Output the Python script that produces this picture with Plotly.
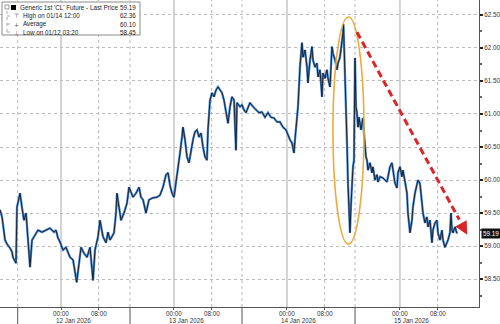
import pandas as pd
import plotly.graph_objects as go

# ---------------- data ----------------
# hours relative to 2026-01-12 00:00
hours = [
    -12.96, -12.53, -11.89, -11.47, -10.83, -10.41, -10.20, -9.77, -9.56,
    -9.35, -8.92, -8.71, -8.28, -7.86, -7.43, -7.01, -6.58, -6.16, -5.52, -4.89, -4.04, -3.19, -2.34,
    -1.49, -1.06, -0.64, -0.21, 0.42, 1.06, 1.91, 2.55, 3.33, 3.61, 4.25, 4.89, 5.52, 6.16, 6.80, 7.22,
    7.86, 8.28, 8.92, 9.56, 9.98, 10.41, 10.83, 11.26, 11.68, 11.89, 12.32, 12.74, 13.38, 14.02, 14.44,
    14.87, 15.29, 15.93, 16.57, 16.99, 17.42, 18.05, 18.69, 19.54, 20.39, 21.03,
    21.66, 22.30, 22.73, 23.15, 23.58, 24.00, 24.43, 24.85, 25.28, 25.70, 25.91, 26.34, 26.76, 27.19,
    27.61, 28.04, 28.46, 28.89, 29.31, 29.74, 30.16, 30.59, 31.01, 31.22, 31.65, 32.07, 32.50, 32.92,
    33.35, 33.77, 34.20, 34.62, 35.05, 35.47, 35.90, 36.32, 36.75, 37.17, 37.38, 38.02, 38.44, 38.87,
    39.29, 39.72, 40.14, 40.78, 41.42, 42.06, 42.69, 43.33, 43.97, 44.60, 45.24, 45.88, 46.52, 47.15,
    47.79, 48.21, 48.64, 49.06, 49.49, 49.70, 50.34, 50.76, 51.19,
    51.40, 51.83, 52.25, 52.46, 52.89, 53.31, 53.52, 53.95, 54.37, 54.59,
    55.01, 55.44, 55.65, 56.07, 56.50, 56.71, 57.14, 57.56, 57.77, 58.20,
    58.62, 58.84, 59.26, 59.69, 59.90, 60.00,
    60.53, 60.75, 60.96, 61.17, 61.38, 61.60, 61.81, 62.02, 62.23, 62.45,
    62.66, 62.87, 63.08, 63.30, 63.72, 63.93, 64.14, 64.36, 64.57, 64.78,
    64.99, 65.21, 65.63, 66.06, 66.27, 66.69, 67.12, 67.33, 67.76, 68.39,
    69.24, 69.45, 69.88, 70.30, 70.52, 70.94, 71.37, 71.58, 72.00, 72.43,
    72.64, 73.07, 73.49, 73.70, 74.13, 74.55, 74.76, 75.19, 75.61, 75.83,
    76.25, 76.68, 76.89, 77.31, 77.74, 77.95, 78.38, 78.80, 79.01, 79.44,
    79.86, 80.07, 80.50, 80.92, 81.14, 81.56, 81.99, 82.20, 82.62, 82.84,
    83.05, 83.26, 83.69, 84.11,
]
prices = [
    59.55, 59.44, 59.09, 59.03, 58.97, 58.91, 58.83, 58.76, 58.74,
    59.59, 59.74, 59.80, 59.58, 59.39, 59.50, 59.14, 58.68, 59.09, 59.17, 59.24, 59.21, 59.24, 59.27,
    59.21, 59.24, 59.12, 59.06, 58.94, 58.98, 58.83, 58.79, 58.45, 58.64, 58.98, 58.89, 58.83, 58.98, 58.48, 58.94,
    59.14, 59.39, 59.14, 59.05, 59.21, 59.09, 59.14, 59.20, 59.50, 59.80, 59.59, 59.39, 59.50, 59.65, 59.89,
    59.80, 59.74, 59.80, 59.89, 59.74, 59.70, 59.50, 59.70, 59.73, 59.74, 59.77,
    59.89, 60.08, 60.11, 59.92, 59.80, 59.74, 59.95, 60.20, 60.41, 60.65, 60.80, 60.61, 60.35, 60.26,
    60.45, 60.61, 60.73, 60.76, 60.65, 60.71, 60.50, 60.35, 60.30, 60.76, 61.21, 61.32, 61.26, 61.36,
    61.41, 61.36, 61.32, 61.21, 61.06, 60.86, 61.11, 61.26, 61.21, 60.45, 61.17, 61.11, 61.14, 61.06,
    61.02, 61.09, 61.17, 61.11, 61.06, 61.02, 61.03, 60.95, 61.02, 60.95, 60.94, 60.88, 60.88, 60.80,
    60.76, 60.68, 60.61, 60.56, 60.41, 60.61, 61.11, 61.71, 62.08,
    61.86, 61.97, 61.71, 61.47, 61.82, 62.02, 61.82, 61.71, 61.77, 61.56,
    61.67, 61.26, 61.62, 61.54, 61.67, 61.54, 61.41, 62.02, 61.92, 61.82,
    61.67, 61.77, 61.86, 62.08, 62.23, 62.36,
    60.76, 60.56, 59.95, 59.55, 59.20, 59.62, 60.00, 60.20, 60.30, 61.85,
    61.11, 61.02, 60.80, 60.95, 60.76, 60.86, 60.94, 60.71, 60.45, 60.35,
    60.30, 60.15, 60.26, 60.11, 60.20, 60.00, 60.08, 59.97, 60.05, 60.03,
    59.97, 60.05, 60.20, 60.26, 60.15, 59.95, 59.88, 60.11, 60.20, 60.05,
    60.15, 59.95, 59.80, 59.50, 59.20, 59.39, 59.59, 59.80, 59.95, 60.00,
    59.95, 59.70, 59.50, 59.35, 59.44, 59.29, 59.39, 59.05, 59.24, 59.35,
    59.39, 59.20, 59.09, 59.24, 59.09, 58.98, 59.05, 59.09, 59.20, 59.50,
    59.24, 59.20, 59.29, 59.19,
]

legend_labels = ["Generic 1st 'CL' Future - Last Price", "High on 01/14 12:00", "Average", "Low on 01/12 03:20"]
legend_values = ["59.19", "62.36", "60.10", "58.45"]
day_labels = ["12 Jan 2026", "13 Jan 2026", "14 Jan 2026", "15 Jan 2026"]
time_tick_hours = [0, 8, 24, 32, 48, 56, 72, 80]
time_tick_labels = ["00:00", "08:00", "00:00", "08:00", "00:00", "08:00", "00:00", "08:00"]
last_price = 59.19

# ---------------- figure ----------------
base = pd.Timestamp("2026-01-12")


def T(h):
    return base + pd.Timedelta(hours=h)


times = [T(h) for h in hours]

W, H = 500, 324
ML, MR, MT, MB = 0, 21, 0, 17
PW, PH = W - ML - MR, H - MT - MB
FONT = "Liberation Sans"


def px(xp):
    return xp / PW


def py(yp):
    return 1 - yp / PH


fig = go.Figure()
fig.add_trace(go.Scatter(x=times, y=prices, mode="lines",
                         line=dict(color="#4a8ad2", width=2.3), hoverinfo="skip"))
fig.add_trace(go.Scatter(x=times, y=prices, mode="lines",
                         line=dict(color="#151a26", width=0.9)))

shapes = []
midnights = [0, 24, 48, 72]
eights = [8, 32, 56, 80]
separators = [-9.2, 14.66, 38.45, 62.45]
for h in midnights:
    shapes.append(dict(type="line", xref="x", yref="paper", x0=T(h), x1=T(h), y0=0, y1=1,
                       line=dict(color="#a9a9a9", width=1), layer="below"))
for h in eights + separators:
    shapes.append(dict(type="line", xref="x", yref="paper", x0=T(h), x1=T(h), y0=0, y1=1,
                       line=dict(color="#b8b8b8", width=1, dash="dot"), layer="below"))
for h in separators:
    shapes.append(dict(type="line", xref="x", yref="paper", x0=T(h), x1=T(h), y0=0, y1=-MB / PH,
                       line=dict(color="#555", width=1)))
# orange ellipse
shapes.append(dict(type="circle", xref="x", yref="y", x0=T(57.77), x1=T(64.36), y0=59.03, y1=62.47,
                   line=dict(color="#f2a93b", width=1.6)))
# red dashed trend line
shapes.append(dict(type="line", xref="x", yref="y", x0=T(62.87), y0=62.24, x1=T(84.6), y1=59.40,
                   line=dict(color="#d9262a", width=3, dash="7px,4px")))
# legend box
shapes.append(dict(type="rect", xref="paper", yref="paper", x0=px(2), x1=px(140), y0=py(35), y1=py(2),
                   line=dict(color="#8a8a8a", width=1), fillcolor="white"))
shapes.append(dict(type="rect", xref="paper", yref="paper", x0=px(11), x1=px(16), y0=py(10), y1=py(5),
                   line=dict(color="black", width=0), fillcolor="black"))
shapes.append(dict(type="rect", xref="paper", yref="paper", x0=px(5), x1=px(9), y0=py(9), y1=py(5),
                   line=dict(color="#999", width=1), fillcolor="white"))
shapes.append(dict(type="line", xref="paper", yref="paper", x0=px(7), x1=px(7), y0=py(32), y1=py(9),
                   line=dict(color="#aaa", width=1, dash="dot")))
for yy in (16, 24, 32):
    shapes.append(dict(type="line", xref="paper", yref="paper", x0=px(7), x1=px(13), y0=py(yy), y1=py(yy),
                       line=dict(color="#aaa", width=1, dash="dot")))

ann = []
# arrow head
ann.append(dict(x=T(86.3), y=59.17, xref="x", yref="y", text="", showarrow=True,
                ax=-5, ay=-9, arrowhead=2, arrowsize=1.0, arrowwidth=2.6, arrowcolor="#d9262a"))
# legend text
ys = [7.5, 15.7, 24, 32]
xs = [17.5, 20.5, 20.5, 20.5]
for lab, val, yy, xx in zip(legend_labels, legend_values, ys, xs):
    ann.append(dict(xref="paper", yref="paper", x=px(xx), y=py(yy), text=lab, showarrow=False,
                    xanchor="left", yanchor="middle", font=dict(family=FONT, size=6.3, color="#222")))
    ann.append(dict(xref="paper", yref="paper", x=px(138), y=py(yy), text=val, showarrow=False,
                    xanchor="right", yanchor="middle", font=dict(family=FONT, size=6.3, color="#222")))
for sym, yy in zip(["⊤", "+", "⊥"], ys[1:]):
    ann.append(dict(xref="paper", yref="paper", x=px(16.5), y=py(yy), text=sym, showarrow=False,
                    xanchor="center", yanchor="middle", font=dict(family="DejaVu Sans", size=6, color="#555")))
# time tick labels
for lab, h in zip(time_tick_labels, time_tick_hours):
    ann.append(dict(xref="x", yref="paper", x=T(h), y=py(313), text=lab, showarrow=False,
                    xanchor="center", yanchor="middle", font=dict(family=FONT, size=6.3, color="#333")))
# date labels
for lab, h in zip(day_labels, [2.55, 26.55, 50.55, 74.55]):
    ann.append(dict(xref="x", yref="paper", x=T(h), y=py(320.5), text=lab, showarrow=False,
                    xanchor="center", yanchor="middle", font=dict(family=FONT, size=6.3, color="#333")))
# last price tag
ann.append(dict(xref="paper", yref="y", x=px(481), y=last_price, text=f"{last_price:.2f}", showarrow=False,
                xanchor="left", yanchor="middle", bgcolor="#111", borderpad=1,
                font=dict(family=FONT, size=6.3, color="white")))

tickvals = [T(h) for h in time_tick_hours]

fig.update_layout(
    width=W, height=H,
    margin=dict(l=ML, r=MR, t=MT, b=MB, pad=0),
    paper_bgcolor="white", plot_bgcolor="white",
    showlegend=False,
    shapes=shapes, annotations=ann,
    xaxis=dict(type="date", range=[T(-12.96), T(88.79)], showgrid=False, zeroline=False,
               tickmode="array", tickvals=tickvals, showticklabels=False,
               ticks="outside", ticklen=2, tickcolor="#555",
               showline=True, linecolor="#555", linewidth=1),
    yaxis=dict(side="right", range=[58.076, 62.727], tick0=58.5, dtick=0.5, tickformat=".2f",
               showgrid=True, gridcolor="#bdbdbd", griddash="dot", gridwidth=1, zeroline=False,
               ticks="outside", ticklen=3, tickwidth=1.5, tickcolor="#222",
               tickfont=dict(family=FONT, size=6.3, color="#333"),
               showline=True, linecolor="#555", linewidth=1,
               minor=dict(dtick=0.25, tick0=58.5, ticks="outside", ticklen=2, tickcolor="#666", showgrid=False)),
)

fig.write_html("out.html")
